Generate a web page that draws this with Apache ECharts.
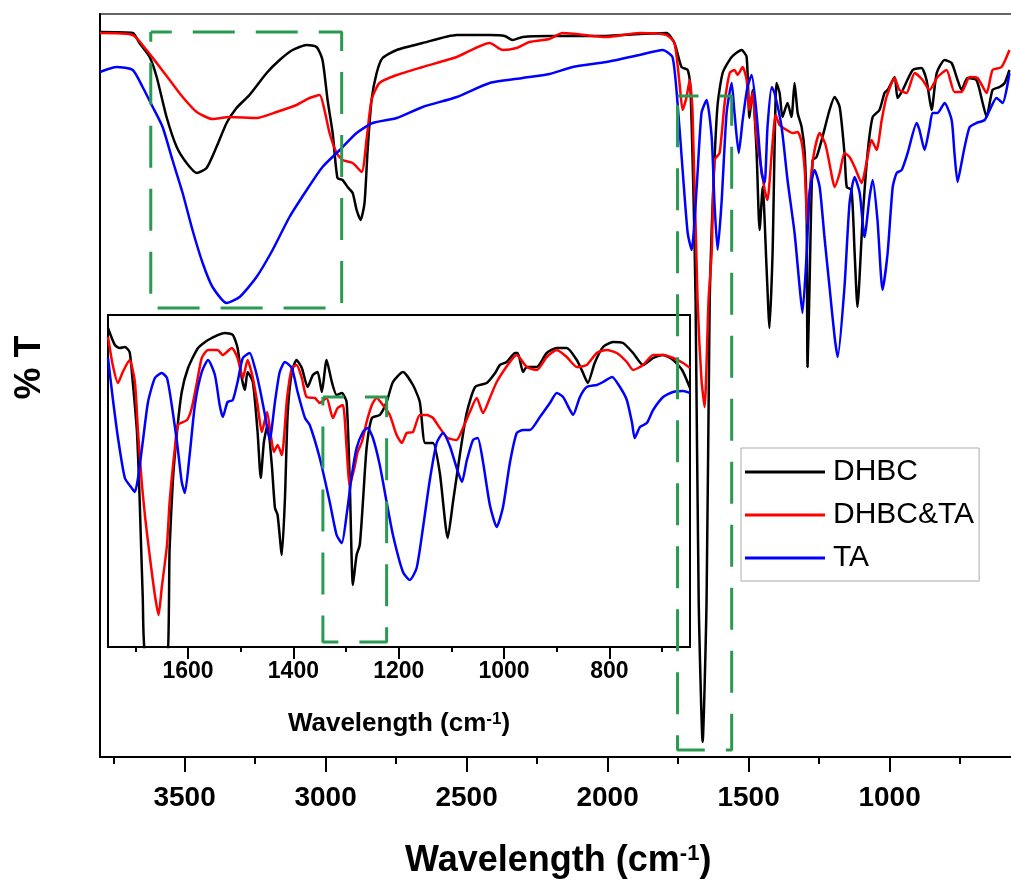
<!DOCTYPE html>
<html>
<head>
<meta charset="utf-8">
<script src="https://cdn.jsdelivr.net/npm/echarts@6/dist/echarts.min.js"></script>
<style>
html,body{margin:0;padding:0;background:#fff;}
#chart{width:1011px;height:883px;}
</style>
</head>
<body>
<div id="chart"></div>
<script>
// ---------- data (wavenumber cm-1, %T arbitrary offset units) ----------
const seriesNames = ['DHBC', 'DHBC&TA', 'TA'];

const mainTickLabels = [3500, 3000, 2500, 2000, 1500, 1000];
const mainMinorTicks = [3750, 3250, 2750, 2250, 1750, 1250, 750];
const insetTickLabels = [1600, 1400, 1200, 1000, 800];
const insetMinorTicks = [1700, 1500, 1300, 1100, 900, 700];

const dhbcMain = [[3800,72.5],[3684,72.4],[3660,71.4],[3624,70.0],[3599,68.0],[3564,64.0],[3528,61.0],[3493,59.4],[3457,58.4],[3422,58.9],[3387,61.0],[3351,63.4],[3316,64.9],[3270,66.2],[3209,68.4],[3163,69.7],[3117,70.7],[3067,71.2],[3032,71.0],[3011,69.7],[2993,65.7],[2975,62.4],[2958,57.9],[2940,57.7],[2922,57.0],[2904,56.4],[2890,54.7],[2876,53.7],[2862,55.4],[2851,60.7],[2837,65.7],[2819,68.4],[2798,69.9],[2748,70.7],[2656,71.4],[2535,72.2],[2418,72.2],[2365,72.1],[2337,71.7],[2301,72.0],[2206,72.1],[2028,72.1],[1887,72.3],[1791,72.4],[1763,71.4],[1738,69.0],[1716,68.7],[1706,66.7],[1695,55.7],[1688,45.7],[1677,15.7],[1663,1.5],[1649,15.7],[1638,45.7],[1631,52.7],[1621,59.7],[1610,65.2],[1592,68.4],[1560,70.0],[1525,70.7],[1507,70.0],[1497,63.9],[1486,66.7],[1472,60.7],[1461,52.7],[1450,57.0],[1436,48.7],[1426,42.9],[1415,50.4],[1401,67.4],[1390,66.4],[1380,64.0],[1362,65.4],[1348,64.0],[1337,67.4],[1326,64.4],[1312,63.0],[1301,60.4],[1294,53.7],[1291,39.0],[1284,47.0],[1273,59.7],[1259,60.0],[1238,62.0],[1213,64.7],[1195,66.0],[1177,65.0],[1160,60.4],[1152,57.0],[1135,56.7],[1124,50.4],[1114,45.0],[1096,53.7],[1078,60.4],[1060,64.0],[1036,64.7],[1018,66.4],[1007,66.7],[982,68.0],[972,65.9],[957,66.5],[918,68.7],[887,68.9],[869,67.7],[851,64.7],[833,68.4],[805,69.7],[780,69.4],[759,67.7],[745,66.7],[724,67.9],[692,67.7],[670,65.4],[656,64.0],[635,66.7],[610,67.0],[592,67.4],[575,68.7]];

const dhbcTaMain = [[3800,72.4],[3684,72.2],[3635,70.7],[3599,69.4],[3553,67.7],[3507,66.0],[3457,64.5],[3401,63.8],[3340,64.0],[3245,63.9],[3174,64.5],[3103,65.2],[3057,65.9],[3021,66.2],[3004,64.7],[2986,62.4],[2961,60.4],[2940,59.7],[2904,59.4],[2872,58.5],[2855,61.7],[2837,65.7],[2809,67.4],[2748,68.2],[2656,69.0],[2535,70.0],[2418,71.4],[2372,70.7],[2323,70.9],[2277,71.5],[2206,71.8],[2160,72.4],[2004,72.0],[1887,72.4],[1791,72.2],[1763,71.4],[1745,67.4],[1734,64.7],[1720,66.0],[1709,67.7],[1699,64.7],[1681,45.7],[1667,37.7],[1656,35.0],[1642,45.7],[1631,50.4],[1621,59.7],[1603,60.4],[1585,65.4],[1567,68.4],[1550,68.7],[1539,68.2],[1521,69.0],[1507,67.7],[1497,64.7],[1486,66.4],[1472,62.0],[1454,58.7],[1443,56.7],[1433,55.7],[1418,60.4],[1404,64.2],[1390,63.2],[1365,62.7],[1344,62.4],[1326,62.5],[1312,61.5],[1301,58.7],[1291,53.2],[1280,57.7],[1266,60.7],[1248,62.4],[1227,61.2],[1202,57.7],[1195,57.0],[1177,58.4],[1160,60.4],[1142,60.0],[1124,59.0],[1099,57.4],[1082,59.4],[1064,61.7],[1046,60.7],[1028,63.7],[1011,66.0],[982,67.9],[965,66.7],[940,66.4],[911,68.4],[883,67.7],[858,66.7],[830,68.0],[798,68.7],[770,66.5],[745,66.5],[716,68.0],[688,67.9],[656,66.4],[635,68.7],[603,69.0],[575,70.7]];

const taMain = [[3800,68.5],[3741,69.0],[3684,68.7],[3649,67.0],[3613,65.0],[3578,63.0],[3543,59.7],[3507,56.4],[3472,52.7],[3436,49.4],[3401,47.0],[3351,45.4],[3305,46.0],[3245,48.0],[3188,50.7],[3128,54.0],[3067,56.7],[3011,59.0],[2950,60.7],[2890,62.4],[2833,63.4],[2748,63.9],[2656,65.0],[2535,66.0],[2418,67.4],[2301,67.9],[2206,68.3],[2124,69.0],[2004,69.5],[1887,70.2],[1805,70.7],[1770,70.0],[1752,65.4],[1734,58.7],[1716,52.4],[1702,50.7],[1684,57.0],[1667,64.4],[1649,65.7],[1631,62.0],[1621,55.4],[1610,50.7],[1596,55.4],[1578,64.4],[1560,67.4],[1550,64.4],[1535,60.4],[1521,63.7],[1504,67.0],[1489,68.2],[1472,64.4],[1454,58.4],[1443,57.4],[1433,63.0],[1418,67.0],[1408,66.4],[1383,63.0],[1362,57.7],[1337,52.4],[1319,47.0],[1309,44.4],[1294,50.4],[1284,56.4],[1266,58.7],[1248,57.0],[1231,52.0],[1213,47.0],[1195,42.0],[1184,40.0],[1160,47.0],[1142,55.4],[1124,58.0],[1106,56.4],[1089,52.0],[1071,56.0],[1060,57.7],[1043,53.7],[1025,46.7],[1007,50.4],[989,57.0],[975,58.4],[957,58.7],[936,60.4],[904,63.4],[894,62.7],[876,60.7],[858,63.0],[848,64.4],[830,64.4],[805,65.4],[780,63.7],[770,60.4],[759,57.5],[745,59.4],[734,61.0],[716,63.0],[692,63.4],[663,63.7],[645,64.7],[621,65.9],[599,65.4],[575,68.4]];

const dhbcInset = [[1752,31.9],[1739,30.2],[1730,29.9],[1720,30.0],[1711,29.5],[1705,26.5],[1697,21.5],[1692,14.9],[1686,4.9],[1680,-1.3],[1642,-1.8],[1635,9.9],[1629,16.5],[1621,21.5],[1612,25.5],[1600,27.9],[1581,29.9],[1562,30.7],[1530,31.4],[1515,31.2],[1506,29.9],[1498,26.9],[1492,25.7],[1487,27.5],[1477,26.5],[1468,21.5],[1462,16.9],[1456,20.5],[1449,22.2],[1441,18.2],[1435,13.9],[1430,13.2],[1422,9.2],[1416,14.9],[1411,23.2],[1403,27.5],[1394,28.7],[1384,27.9],[1373,26.0],[1363,27.2],[1354,27.5],[1346,25.5],[1337,28.7],[1327,26.5],[1318,25.2],[1308,25.4],[1299,24.5],[1293,16.5],[1287,6.2],[1280,9.2],[1274,10.2],[1268,14.5],[1261,19.9],[1251,22.9],[1236,23.2],[1223,24.5],[1211,26.5],[1192,27.5],[1173,26.2],[1160,24.5],[1150,20.4],[1135,20.4],[1122,17.4],[1107,10.9],[1097,14.5],[1084,19.2],[1071,23.4],[1055,26.0],[1033,26.4],[1017,27.4],[1008,28.2],[995,28.5],[979,29.4],[974,29.4],[964,27.5],[957,28.0],[938,28.0],[919,29.4],[900,29.9],[881,29.9],[862,28.7],[850,27.4],[841,26.4],[828,28.4],[812,30.0],[793,30.5],[774,30.4],[755,29.4],[736,28.2],[717,28.9],[698,29.2],[679,28.7],[662,27.7],[647,25.9]];

const dhbcTaInset = [[1752,31.0],[1743,28.2],[1733,26.4],[1724,27.5],[1711,28.7],[1701,26.5],[1695,21.5],[1688,16.5],[1682,13.2],[1673,9.2],[1663,5.2],[1656,3.2],[1650,5.9],[1640,10.2],[1635,14.5],[1625,19.9],[1619,22.2],[1602,22.7],[1593,23.9],[1583,26.5],[1574,28.9],[1562,29.7],[1544,29.7],[1534,29.2],[1517,29.9],[1506,28.9],[1496,26.9],[1487,28.7],[1477,26.9],[1468,24.2],[1460,21.5],[1450,23.5],[1443,21.2],[1437,19.5],[1430,20.2],[1422,19.2],[1412,24.9],[1403,27.9],[1394,28.2],[1384,26.9],[1375,25.0],[1359,24.9],[1350,24.4],[1337,24.9],[1325,22.9],[1316,23.9],[1306,24.2],[1299,19.9],[1293,16.2],[1283,18.2],[1278,19.5],[1270,20.5],[1261,22.5],[1251,24.2],[1242,24.9],[1230,24.2],[1217,23.2],[1204,21.2],[1194,20.4],[1185,21.4],[1173,21.5],[1160,23.2],[1147,23.2],[1135,22.9],[1122,21.9],[1107,20.9],[1090,20.7],[1078,21.9],[1065,23.5],[1052,24.9],[1040,23.4],[1027,24.9],[1014,26.5],[989,28.5],[976,29.2],[957,28.0],[938,27.7],[919,29.0],[900,29.7],[881,29.0],[862,28.0],[843,28.2],[824,29.4],[805,29.7],[786,29.4],[767,28.5],[755,27.7],[736,28.2],[717,29.2],[698,29.2],[679,28.9],[660,28.4],[647,27.9]];

const taInset = [[1752,28.9],[1743,24.9],[1733,20.9],[1720,16.9],[1707,15.9],[1701,15.5],[1695,16.9],[1686,20.5],[1676,24.5],[1663,26.9],[1650,27.4],[1640,26.9],[1631,24.2],[1621,20.5],[1612,16.5],[1606,15.4],[1597,19.2],[1587,24.2],[1574,27.5],[1562,28.7],[1549,27.2],[1540,24.2],[1534,23.0],[1525,24.5],[1515,24.7],[1506,26.5],[1496,28.9],[1483,29.4],[1473,27.9],[1464,25.9],[1454,23.2],[1445,20.7],[1435,24.5],[1426,27.5],[1416,28.5],[1403,27.9],[1392,25.5],[1378,22.9],[1369,22.2],[1350,18.9],[1331,14.5],[1318,11.2],[1308,10.4],[1299,13.2],[1289,17.2],[1280,19.9],[1268,21.5],[1259,21.9],[1249,20.9],[1236,18.2],[1223,14.5],[1211,11.2],[1192,7.5],[1179,6.7],[1166,7.9],[1154,11.9],[1141,16.7],[1128,20.4],[1116,21.4],[1103,20.1],[1090,17.9],[1080,16.5],[1071,18.6],[1059,20.7],[1050,20.9],[1040,18.5],[1027,14.2],[1014,12.0],[1002,14.0],[989,18.4],[976,21.4],[964,21.7],[951,21.7],[932,23.0],[913,24.4],[900,25.4],[888,25.0],[875,23.7],[869,23.2],[856,25.0],[843,26.0],[824,26.2],[812,26.5],[795,27.0],[780,26.0],[767,24.7],[757,22.4],[752,20.9],[742,22.0],[729,22.4],[717,23.7],[698,25.0],[679,25.5],[660,25.6],[647,25.4]];

// highlighted regions (dashed boxes)
const boxOH = [[3620,72.5],[2943,72.5],[2943,44.9],[3620,44.9],[3620,72.5]];
const boxCO = [[1752,66.1],[1560,66.1],[1560,0.7],[1752,0.7],[1752,66.1]];
const boxInset = [[1344,25.0],[1223,25.0],[1223,0.5],[1344,0.5],[1344,25.0]];

// ---------- chart ----------
const F = "'Liberation Sans', Arial, Helvetica, sans-serif";
const colors = ['#000000', '#ff0000', '#0000ff'];
const green = '#2a9a50';
const plain = v => String(v);

function curve(name, data, color, xi, yi) {
  return {
    name: name, type: 'line', data: data, xAxisIndex: xi, yAxisIndex: yi,
    symbol: 'none', smooth: 0.2, silent: true, animation: false,
    lineStyle: {color: color, width: 2.5}, itemStyle: {color: color}, z: 3
  };
}
function box(name, data, xi, yi) {
  return {
    name: name, type: 'line', data: data, xAxisIndex: xi, yAxisIndex: yi,
    symbol: 'none', silent: true, animation: false, clip: false,
    lineStyle: {color: green, width: 3, type: [42, 21], dashOffset: 21}, z: 5
  };
}

const nameRich = (big, small) => ({
  t: {fontSize: big, fontWeight: 'bold', fontFamily: F, color: '#000'},
  s: {fontSize: small, fontWeight: 'bold', fontFamily: F, color: '#000', verticalAlign: 'top'}
});

const chart = echarts.init(document.getElementById('chart'), null, {renderer: 'canvas'});
chart.setOption({
  backgroundColor: '#fff',
  animation: false,
  grid: [
    {left: 100, top: 14, width: 916.5, height: 743, show: true, borderColor: '#333', borderWidth: 1.5, outerBoundsMode: 'none', containLabel: false},
    {left: 108, top: 315, width: 582, height: 332, show: true, borderColor: '#000', borderWidth: 2, outerBoundsMode: 'none', containLabel: false}
  ],
  legend: {
    data: seriesNames.map(n => ({name: n, icon: 'rect'})),
    orient: 'vertical', left: 741, top: 448,
    itemWidth: 80, itemHeight: 3, itemGap: 13, padding: [9, 5, 8, 4],
    borderColor: '#aaa', borderWidth: 1, backgroundColor: '#fff',
    textStyle: {fontSize: 30, fontFamily: F, color: '#000', padding: [0, 0, 0, 3]},
    selectedMode: false
  },
  xAxis: [
    {type: 'value', gridIndex: 0, min: 550, max: 3800, inverse: true, position: 'bottom',
     axisLine: {show: true, onZero: false, lineStyle: {color: '#000', width: 2}},
     axisTick: {show: true, length: 15, customValues: mainTickLabels, lineStyle: {color: '#000', width: 2}},
     axisLabel: {show: true, customValues: mainTickLabels, formatter: plain, margin: 27, fontSize: 28, fontWeight: 'bold', fontFamily: F, color: '#000'},
     splitLine: {show: false},
     name: '{t|Wavelength (cm}{s|-1}{t|)}', nameLocation: 'middle', nameGap: 86,
     nameTextStyle: {fontSize: 36, fontWeight: 'bold', fontFamily: F, color: '#000', rich: nameRich(36, 22)}},
    {type: 'value', gridIndex: 0, min: 550, max: 3800, inverse: true, position: 'bottom',
     axisLine: {show: false, onZero: false},
     axisTick: {show: true, length: 7, customValues: mainMinorTicks, lineStyle: {color: '#000', width: 2}},
     axisLabel: {show: false}, splitLine: {show: false}},
    {type: 'value', gridIndex: 1, min: 647, max: 1752, inverse: true, position: 'bottom',
     axisLine: {show: true, onZero: false, lineStyle: {color: '#000', width: 2}},
     axisTick: {show: true, length: 12, customValues: insetTickLabels, lineStyle: {color: '#000', width: 2}},
     axisLabel: {show: true, customValues: insetTickLabels, formatter: plain, margin: 13, fontSize: 23, fontWeight: 'bold', fontFamily: F, color: '#000'},
     splitLine: {show: false},
     name: '{t|Wavelength (cm}{s|-1}{t|)}', nameLocation: 'middle', nameGap: 64,
     nameTextStyle: {fontSize: 26, fontWeight: 'bold', fontFamily: F, color: '#000', rich: nameRich(26, 17)}},
    {type: 'value', gridIndex: 1, min: 647, max: 1752, inverse: true, position: 'bottom',
     axisLine: {show: false, onZero: false},
     axisTick: {show: true, length: 5, customValues: insetMinorTicks, lineStyle: {color: '#000', width: 2}},
     axisLabel: {show: false}, splitLine: {show: false}}
  ],
  yAxis: [
    {type: 'value', gridIndex: 0, min: 0, max: 74.3,
     axisLine: {show: true, onZero: false, lineStyle: {color: '#000', width: 2}},
     axisTick: {show: false}, axisLabel: {show: false}, splitLine: {show: false},
     name: '% T', nameLocation: 'middle', nameGap: 52, nameRotate: 90,
     nameTextStyle: {fontSize: 36, fontWeight: 'bold', fontFamily: F, color: '#000', padding: [0, 0, 0, 36]}},
    {type: 'value', gridIndex: 1, min: 0, max: 33.2,
     axisLine: {show: true, onZero: false, lineStyle: {color: '#000', width: 2}},
     axisTick: {show: false}, axisLabel: {show: false}, splitLine: {show: false}}
  ],
  series: [
    curve(seriesNames[0], dhbcMain, colors[0], 0, 0),
    curve(seriesNames[1], dhbcTaMain, colors[1], 0, 0),
    curve(seriesNames[2], taMain, colors[2], 0, 0),
    curve(seriesNames[0], dhbcInset, colors[0], 2, 1),
    curve(seriesNames[1], dhbcTaInset, colors[1], 2, 1),
    curve(seriesNames[2], taInset, colors[2], 2, 1),
    box('box-OH', boxOH, 0, 0),
    box('box-CO', boxCO, 0, 0),
    box('box-inset', boxInset, 2, 1)
  ]
});
</script>
</body>
</html>
